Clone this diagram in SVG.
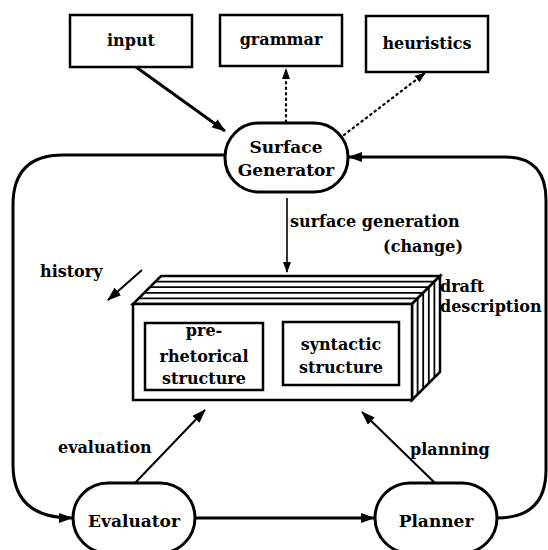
<svg xmlns="http://www.w3.org/2000/svg" width="548" height="550" viewBox="0 0 548 550">
<style>
text{font-family:"DejaVu Serif","Liberation Serif",serif;font-weight:bold;font-size:16px;fill:#000}
.box{fill:#fff;stroke:#000;stroke-width:2.5}
.pill{fill:#fff;stroke:#000;stroke-width:3}
.c{text-anchor:middle}
.node{font-size:17px}
.thick{fill:none;stroke:#000;stroke-width:3}
.mid{fill:none;stroke:#000;stroke-width:2}
.thin{fill:none;stroke:#000;stroke-width:1.6}
.dot{fill:none;stroke:#000;stroke-width:2.2;stroke-dasharray:1.5 4;stroke-linecap:round}
.stripe{fill:none;stroke:#000;stroke-width:1.8}
</style>
<defs>
<marker id="ah" markerUnits="userSpaceOnUse" markerWidth="14" markerHeight="10" refX="13" refY="5" orient="auto">
<path d="M0,0 L14,5 L0,10 Z" fill="#000"/>
</marker>
<marker id="as" markerUnits="userSpaceOnUse" markerWidth="11" markerHeight="8" refX="10" refY="4" orient="auto">
<path d="M0,0 L11,4 L0,8 Z" fill="#000"/>
</marker>
</defs>

<g id="connectors">
<path class="thick" d="M136,67 L225,131" marker-end="url(#ah)"/>
<path class="dot" d="M286,122 L286,69" marker-end="url(#as)"/>
<path class="dot" d="M344,135 L425,73" marker-end="url(#as)"/>
<path class="thin" d="M287,198 L287,272" marker-end="url(#as)"/>
<path class="mid" d="M142,270 L108,300" marker-end="url(#ah)"/>
<path class="thick" d="M225,155 H63 Q13,155 13,205 V465 Q13,518 72,518" marker-end="url(#ah)"/>
<path class="thick" d="M497,518 Q546,518 546,470 V200 Q546,157 505,157 H349" marker-end="url(#ah)"/>
<path class="thick" d="M195,518 H374" marker-end="url(#ah)"/>
<path class="mid" d="M135,483 L205,410" marker-end="url(#ah)"/>
<path class="mid" d="M435,483 L362,412" marker-end="url(#ah)"/>
</g>

<g id="input"><rect class="box" x="70" y="15" width="122" height="52"/><text class="c" x="131" y="46">input</text></g>
<g id="grammar"><rect class="box" x="220" y="15" width="122" height="51"/><text class="c" x="281" y="45">grammar</text></g>
<g id="heuristics"><rect class="box" x="366" y="16" width="122" height="56"/><text class="c" x="427" y="49">heuristics</text></g>

<g id="surface-generator"><rect class="pill" x="225" y="123" width="123" height="69" rx="34" ry="34"/><text class="c node" x="286" y="153">Surface</text><text class="c node" x="286" y="176">Generator</text></g>

<g id="evaluator"><rect class="pill" x="73" y="483" width="122" height="70" rx="35" ry="35"/><text class="c node" x="134" y="527">Evaluator</text></g>
<g id="planner"><rect class="pill" x="375" y="483" width="122" height="70" rx="35" ry="35"/><text class="c node" x="436" y="527">Planner</text></g>

<g id="draft-description">
<polygon class="box" points="133,304 412,304 440,276 161,276"/>
<polygon class="box" points="412,304 440,276 440,372 412,400"/>
<path class="stripe" d="M138.6,298.4 H417.6 M144.2,292.8 H423.2 M149.8,287.2 H428.8 M155.4,281.6 H434.4"/>
<path class="stripe" d="M417.6,298.4 V394.4 M423.2,292.8 V388.8 M428.8,287.2 V383.2 M434.4,281.6 V377.6"/>
<rect class="box" x="133" y="304" width="279" height="96"/>
<g id="pre-rhetorical"><rect class="box" x="145" y="323" width="118" height="67"/><text class="c" x="204" y="336">pre-</text><text class="c" x="204" y="362">rhetorical</text><text class="c" x="204" y="384">structure</text></g>
<g id="syntactic"><rect class="box" x="283" y="322" width="116" height="63"/><text class="c" x="341" y="350">syntactic</text><text class="c" x="341" y="373">structure</text></g>
</g>

<g id="labels">
<text x="290" y="227">surface generation</text>
<text x="463" y="252" text-anchor="end">(change)</text>
<text x="40" y="277">history</text>
<text x="440" y="292">draft</text>
<text x="440" y="312">description</text>
<text x="58" y="453">evaluation</text>
<text x="410" y="455">planning</text>
</g>
</svg>
